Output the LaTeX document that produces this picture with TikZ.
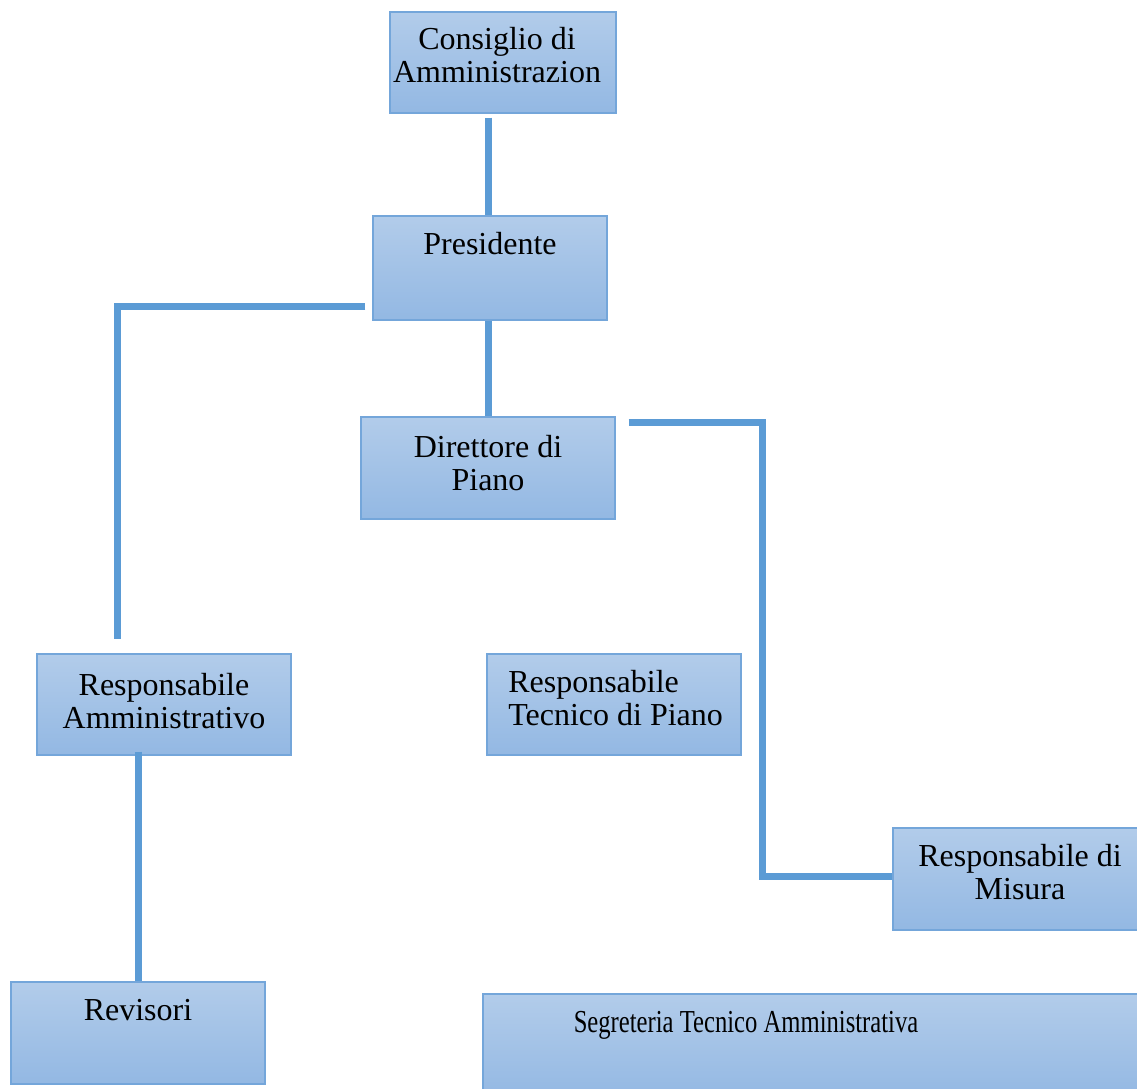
\documentclass[tikz,border=0pt]{standalone}
\usepackage{fontspec}
\setmainfont{Liberation Serif}
\usepackage{graphicx}
\usetikzlibrary{calc}
\definecolor{boxtop}{HTML}{B2CCEA}
\definecolor{boxbot}{HTML}{93B8E3}
\definecolor{boxline}{HTML}{74A6DA}
\definecolor{connc}{HTML}{5B9BD5}
\tikzset{
  box/.style={rectangle, draw=boxline, line width=0.9pt, top color=boxtop, bottom color=boxbot, inner sep=0pt},
  txt/.style={anchor=base, align=center, inner sep=0pt, font=\fontsize{24}{24.5}\selectfont},
  txtl/.style={anchor=base west, align=left, inner sep=0pt, font=\fontsize{24}{24.5}\selectfont},
  conn/.style={draw=connc, line width=5.25pt}
}
\begin{document}
\begin{tikzpicture}[x=0.75pt,y=-0.75pt]
\useasboundingbox (0,0) rectangle (1137,1088);
% boxes
\node[box, minimum width=169.5pt, minimum height=75.75pt] (cons) at (503,62.5) {};
\node[box, minimum width=175.5pt, minimum height=78pt] (pres) at (490,268) {};
\node[box, minimum width=190.5pt, minimum height=76.5pt] (dir) at (488,468) {};
\node[box, minimum width=190.5pt, minimum height=75.75pt] (amm) at (164,704.5) {};
\node[box, minimum width=190.5pt, minimum height=75.75pt] (tec) at (614,704.5) {};
\node[box, minimum width=185.25pt, minimum height=76.5pt] (mis) at (1016.5,879) {};
\node[box, minimum width=190.5pt, minimum height=76.5pt] (rev) at (138,1033) {};
\node[box, minimum width=496.5pt, minimum height=79.5pt] (seg) at (814,1047) {};
% texts (base = last line baseline)
\node[txt] (tcons) at (497,82) {Consiglio di\\Amministrazion};
\node[txt] (tpres) at (490,254) {Presidente};
\node[txt] (tdir) at (488,490) {Direttore di\\Piano};
\node[txt] (tamm) at (164,728) {Responsabile\\Amministrativo};
\node[txtl] (ttec) at (508,725) {Responsabile\\Tecnico di Piano};
\node[txt] (tmis) at (1020,899) {Responsabile di\\Misura};
\node[txt] (trev) at (138,1020) {Revisori};
\node[txt] (tseg) at (746,1032) {\scalebox{0.77}[1]{Segreteria Tecnico Amministrativa}};
% connectors
\coordinate (c1) at (762,876);
\draw[conn] ([yshift=-3]cons.south -| dir.north) -- (pres.north -| dir.north);
\draw[conn] (pres.south -| dir.north) -- (dir.north);
\draw[conn] ($(pres.south west)+(-7,-14)$) -| ($(amm.north west)+(81,-14)$);
\draw[conn] ($(dir.north east)+(13,6)$) -| (c1) -- (mis.west |- c1);
\draw[conn] ([yshift=3]amm.south -| rev.north) -- (rev.north);
\draw[conn] ($(tec.south east)+(-31,0)$) -- ($(tec.south east)+(-31,0)$ |- seg.north);
\end{tikzpicture}
\end{document}
